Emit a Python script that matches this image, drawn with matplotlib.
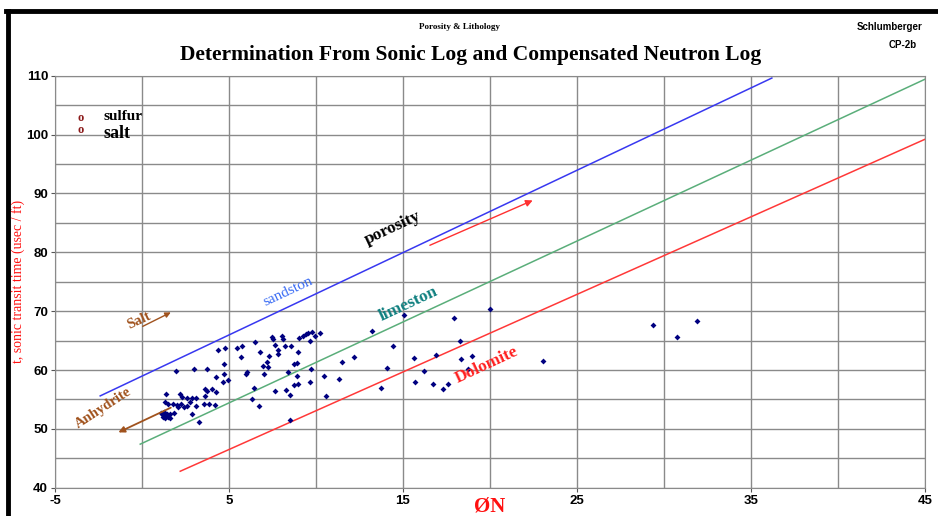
import matplotlib.pyplot as plt
from matplotlib.lines import Line2D
from matplotlib.ticker import MultipleLocator

plt.rcParams['axes.unicode_minus'] = False

# neutron porosity (x) and sonic transit time (y) of the log samples
phi_n = [1.94, 3.01, 1.36, 2.18, 2.32, 2.57, 2.86, 2.76, 1.32, 1.51, 1.80, 2.03, 2.22,
         2.60, 2.43, 2.09, 3.10, 2.86, 1.86, 1.61, 1.26, 1.19, 1.38, 1.45, 1.22, 1.51,
         3.29, 3.10, 1.32, 1.61, 1.09, 3.62, 3.72, 4.02, 3.62, 4.25, 3.58, 3.87, 4.20,
         4.24, 4.67, 4.93, 4.73, 4.73, 4.39, 4.77, 5.44, 5.73, 3.75, 6.49, 6.78, 5.67,
         7.45, 7.55, 8.12, 8.03, 7.64, 8.22, 7.82, 8.98, 8.55, 7.30, 7.80, 7.17, 6.97,
         7.26, 8.89, 8.75, 6.05, 5.98, 7.03, 8.37, 6.44, 7.64, 8.28, 8.51, 8.74, 8.95,
         8.93, 9.66, 10.48, 10.57, 6.34, 6.74, 9.04, 9.27, 9.43, 9.56, 9.77, 9.94, 10.23,
         9.66, 13.20, 15.07, 14.41, 12.20, 11.51, 9.70, 14.06, 11.34, 13.74, 15.63, 16.21,
         15.69, 20.0, 17.95, 18.28, 16.88, 18.33, 18.95, 18.75, 23.06, 16.74, 17.57, 17.28,
         29.39, 30.76, 31.9, 8.51]
dt = [59.8, 60.1, 56.0, 55.9, 55.4, 55.2, 55.2, 54.6, 54.6, 54.2, 54.2, 54.1, 54.3,
      53.8, 53.7, 53.7, 53.8, 52.5, 52.7, 52.5, 52.9, 52.3, 52.2, 52.6, 52.0, 52.0,
      51.1, 55.3, 51.8, 51.8, 52.7, 55.5, 56.5, 56.8, 56.8, 56.3, 54.3, 54.3, 54.0,
      58.8, 58.0, 58.3, 59.4, 61.1, 63.4, 63.8, 63.8, 64.0, 60.1, 64.8, 63.1, 62.2,
      65.6, 65.2, 65.2, 65.7, 64.3, 64.1, 63.4, 63.0, 64.0, 62.4, 62.8, 61.4, 60.6,
      60.5, 61.2, 61.0, 59.7, 59.3, 59.4, 59.7, 57.0, 56.5, 56.6, 55.7, 57.4, 57.7,
      58.9, 57.9, 58.9, 55.5, 55.1, 53.8, 65.4, 65.8, 66.1, 66.3, 66.4, 65.8, 66.3,
      65.0, 66.7, 69.3, 64.0, 62.2, 61.3, 60.2, 60.3, 58.4, 56.9, 62.0, 59.9,
      58.0, 70.3, 68.9, 64.9, 62.5, 61.8, 62.4, 60.1, 61.6, 57.6, 57.6, 56.8,
      67.6, 65.6, 68.4, 51.5]

# matrix lines
sand_x, sand_y = [-2.4, 36.2], [55.6, 109.6]
lime_x, lime_y = [-0.1, 45.0], [47.4, 109.4]
dolo_x, dolo_y = [2.2, 45.0], [42.8, 99.2]

fig = plt.figure(figsize=(9.38, 5.16), dpi=100)
ax = fig.add_axes([0.0586, 0.0548, 0.9275, 0.7985])

ax.set_xlim(-5, 45)
ax.set_ylim(40, 110)
ax.xaxis.set_major_locator(MultipleLocator(10, offset=5))
ax.xaxis.set_minor_locator(MultipleLocator(5))
ax.yaxis.set_major_locator(MultipleLocator(10))
ax.yaxis.set_minor_locator(MultipleLocator(5))
ax.grid(which='both', color='#8a8a8a', lw=1.0)
ax.set_axisbelow(True)
for s in ax.spines.values():
    s.set_color('#8a8a8a')
ax.tick_params(which='both', length=3, color='#555555', labelsize=9.5, pad=2)
ax.tick_params(which='minor', length=0)
for lab in ax.get_xticklabels() + ax.get_yticklabels():
    lab.set_fontweight('bold')
    lab.set_family('Liberation Sans')

ax.plot(sand_x, sand_y, color='#3838f0', lw=1.1)
ax.plot(lime_x, lime_y, color='#5aae7a', lw=1.1)
ax.plot(dolo_x, dolo_y, color='#ff3838', lw=1.1)
ax.plot(phi_n, dt, 'D', color='#000080', ms=3, mec='none')

serif = 'Liberation Serif'
ax.text(8.4, 73.3, 'sandston', color='#3a6cf4', rotation=25, fontsize=11,
        family=serif, ha='center', va='center')
ax.text(15.3, 71.2, 'limeston', color='#108080', rotation=25, fontsize=12.5,
        family=serif, weight='bold', ha='center', va='center')
ax.text(19.8, 60.9, 'Dolomite', color='#ff2020', rotation=25, fontsize=12.5,
        family=serif, weight='bold', ha='center', va='center')
ax.text(14.4, 84.1, 'porosity', color='black', rotation=25, fontsize=12.5,
        family=serif, weight='bold', ha='center', va='center')
ax.annotate('', xy=(22.6, 89.0), xytext=(16.4, 81.0),
            arrowprops=dict(arrowstyle='-|>', color='#ff3030', lw=1, mutation_scale=10))
ax.text(-0.2, 68.4, 'Salt', color='#a0521d', rotation=25, fontsize=10.5,
        family=serif, weight='bold', ha='center', va='center')
ax.annotate('', xy=(1.8, 70.0), xytext=(-0.1, 67.2),
            arrowprops=dict(arrowstyle='-|>', color='#a0521d', lw=1, mutation_scale=8))
ax.text(-2.2, 53.6, 'Anhydrite', color='#a0521d', rotation=33, fontsize=10.5,
        family=serif, weight='bold', ha='center', va='center')
ax.annotate('', xy=(-1.5, 49.2), xytext=(1.8, 53.8),
            arrowprops=dict(arrowstyle='-|>', color='#a0521d', lw=1.3, mutation_scale=9))

ax.text(-3.55, 102.8, 'o', color='#8b1a1a', fontsize=9, family=serif, weight='bold',
        ha='center', va='center')
ax.text(-3.55, 100.8, 'o', color='#8b1a1a', fontsize=9, family=serif, weight='bold',
        ha='center', va='center')
ax.text(-2.2, 103.0, 'sulfur', fontsize=11, family=serif, weight='bold', va='center')
ax.text(-2.2, 100.2, 'salt', fontsize=13, family=serif, weight='bold', va='center')

ax.text(20, -0.045, 'ØN', transform=ax.get_xaxis_transform(), color='#ff1010',
        fontsize=15, family=serif, weight='bold', ha='center', va='center')
ax.set_ylabel('t, sonic transit time (usec / ft)', color='#ff1010', fontsize=10,
              family=serif)
ax.yaxis.set_label_coords(-0.035, 0.5)

fig.text(0.49, 0.947, 'Porosity & Lithology', fontsize=6.5, family=serif, weight='bold',
         ha='center', va='center')
fig.text(0.502, 0.893, 'Determination From Sonic Log and Compensated Neutron Log',
         fontsize=15.5, family=serif, weight='bold', ha='center', va='center')
fig.text(0.983, 0.947, 'Schlumberger', fontsize=7, family='Liberation Sans',
         weight='bold', ha='right', va='center')
fig.text(0.977, 0.912, 'CP-2b', fontsize=7, family='Liberation Sans',
         weight='bold', ha='right', va='center')

# dark frame along top and left edge
fig.add_artist(Line2D([0.006, 1.0], [0.978, 0.978], color='black', lw=3.5,
                      transform=fig.transFigure))
fig.add_artist(Line2D([0.008, 0.008], [0.0, 0.978], color='black', lw=3.5,
                      transform=fig.transFigure))

fig.savefig('out.png', dpi=100)
